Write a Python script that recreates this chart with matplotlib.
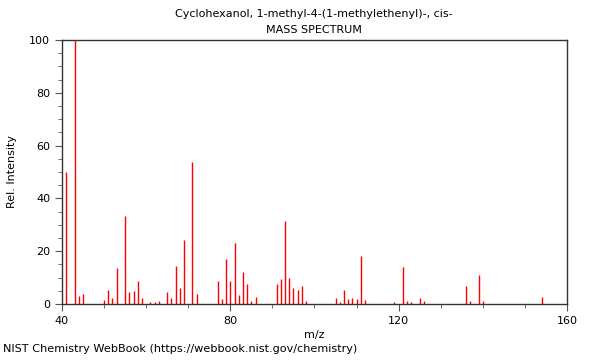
import numpy as np
import matplotlib.pyplot as plt
from matplotlib.ticker import MultipleLocator

# m/z and relative intensity
mz = [41, 43, 44, 45, 50, 51, 52, 53, 55, 56, 57, 58, 59, 61, 62, 63,
      65, 66, 67, 68, 69, 71, 72, 77, 78, 79, 80, 81, 82, 83, 84, 85, 86,
      91, 92, 93, 94, 95, 96, 97, 98, 105, 106, 107, 108, 109, 110, 111, 112,
      119, 121, 122, 123, 125, 126, 136, 137, 139, 140, 154]
intensity = [50.1, 100, 3.2, 3.8, 1.6, 5.4, 2.4, 13.6, 33.5, 4.5, 4.8, 8.8, 2.3, 0.6, 0.6, 1.3,
             4.5, 2.1, 14.2, 6.2, 24.2, 53.8, 3.6, 8.8, 1.9, 17.2, 8.8, 23.0, 3.5, 12.0, 7.7, 1.3, 2.6,
             7.6, 9.5, 31.6, 9.8, 6.1, 5.3, 6.7, 1.3, 2.4, 0.6, 5.4, 1.9, 2.3, 2.0, 18.3, 1.6,
             0.8, 14.1, 1.3, 0.6, 2.3, 1.0, 7.0, 1.2, 11.1, 1.3, 2.5]

title = "Cyclohexanol, 1-methyl-4-(1-methylethenyl)-, cis-"

fig = plt.figure(figsize=(6, 3.6), dpi=100)
ax = fig.add_axes([0.1033, 0.1556, 0.8417, 0.7333])

ax.vlines(mz, 0, intensity, color='#ff0000', linewidth=1.0)

ax.set_xlim(40, 160)
ax.set_ylim(0, 100)
ax.xaxis.set_major_locator(MultipleLocator(40))
ax.xaxis.set_minor_locator(MultipleLocator(10))
ax.yaxis.set_major_locator(MultipleLocator(20))
ax.yaxis.set_minor_locator(MultipleLocator(5))
ax.tick_params(which='both', direction='out', labelsize=8, color='#555555')
ax.tick_params(which='major', length=5)
ax.tick_params(which='minor', length=3)
for s in ax.spines.values():
    s.set_color('#333333')
    s.set_linewidth(1.0)

ax.set_xlabel('m/z', fontsize=8, labelpad=3)
ax.set_ylabel('Rel. Intensity', fontsize=8, labelpad=9)
fig.text(0.523, 0.961, title, ha='center', va='center', fontsize=8)
fig.text(0.523, 0.917, 'MASS SPECTRUM', ha='center', va='center', fontsize=8)
fig.text(0.005, 0.018, 'NIST Chemistry WebBook (https://webbook.nist.gov/chemistry)',
         ha='left', va='bottom', fontsize=8.15)

fig.savefig('out.png', dpi=100)
